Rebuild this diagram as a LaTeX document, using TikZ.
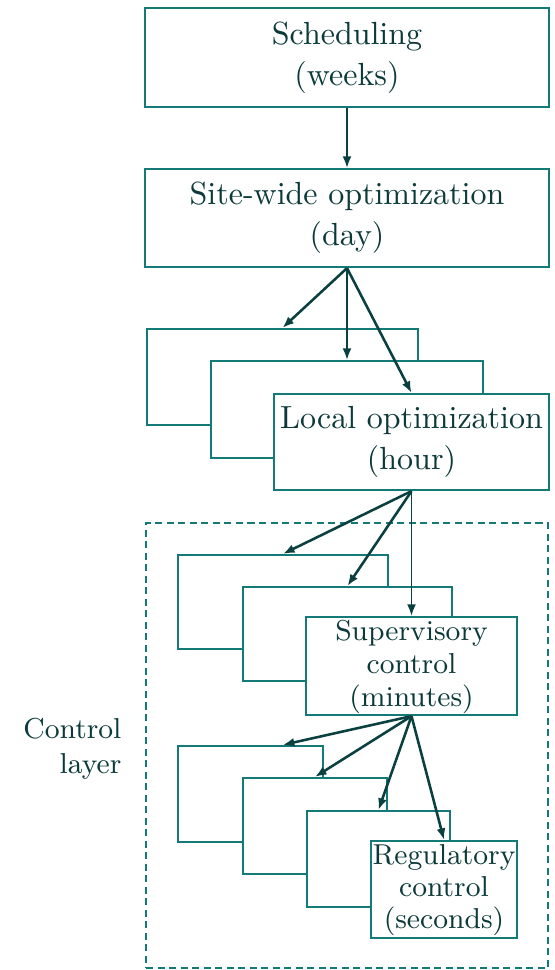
\documentclass[tikz,border=0pt]{standalone}
\usetikzlibrary{fit,arrows.meta,calc}
\definecolor{linecol}{RGB}{20,122,120}
\definecolor{arrowcol}{RGB}{10,64,64}
\definecolor{textcol}{RGB}{12,58,58}
\begin{document}
\begin{tikzpicture}[x=0.3125pt,y=-0.3125pt,
  box/.style={draw=linecol, line width=0.7pt, fill=white, inner sep=0pt},
  lbl/.style={text=textcol, align=center, inner sep=0pt, font=\fontsize{10}{12.8}\selectfont},
  slbl/.style={text=textcol, align=center, inner sep=0pt, font=\fontsize{9}{10.4}\selectfont},
  arr/.style={draw=arrowcol, line width=0.6pt, -{Latex[length=3.6pt,width=2.8pt]}},
  fan/.style={arr, line width=0.8pt},
  layerbox/.style={draw=linecol, line width=0.55pt, dash pattern=on 2.2pt off 1.4pt}
]
\useasboundingbox (0,0) rectangle (554,970);
% top boxes
\node[box, fit={(145,8) (549,107)}] (Sched) {};
\node[box, fit={(145,169) (549,267)}] (Site) {};
% local optimization layer
\node[box, fit={(147,329) (418,425)}] (A) {};
\node[box, fit={(211,361) (483,458)}] (B) {};
\node[box, fit={(274,394) (549,490)}] (C) {};
% control layer frame
\node[layerbox, inner sep=0pt, fit={(146,523) (548,968)}] (Ctrl) {};
% supervisory layer
\node[box, fit={(178,555) (388,649)}] (D) {};
\node[box, fit={(243,587) (452,681)}] (E) {};
\node[box, fit={(306,617) (517,715)}] (F) {};
% regulatory layer
\node[box, fit={(178,746) (323,842)}] (G) {};
\node[box, fit={(243,778) (387,874)}] (H) {};
\node[box, fit={(307,811) (450,907)}] (I) {};
\node[box, fit={(371,841) (517,938)}] (J) {};
% texts
\node[lbl] (tSched) at (Sched.center) {Scheduling\\(weeks)};
\node[lbl] (tSite) at (Site.center) {Site-wide optimization\\(day)};
\node[lbl] (tC) at (C.center) {Local optimization\\(hour)};
\node[slbl] (tF) at ($(F.center)+(0,1)$) {Supervisory\\control\\(minutes)};
\node[slbl, font=\fontsize{9}{10}\selectfont] (tJ) at ($(J.center)+(0,1)$) {Regulatory\\control\\(seconds)};
\node[slbl, align=right, anchor=east, font=\fontsize{9}{10.8}\selectfont] (tCtrl) at (122,749) {Control\\layer};
% connectors
\coordinate (Gin) at ($(G.north west)!0.72!(G.north east)$);
\draw[arr] (Sched.south) -- (Site.north);
\draw[fan] (Site.south) -- (A.north);
\draw[arr] (Site.south) -- (B.north);
\draw[fan] (Site.south) -- (C.north);
\draw[fan] (C.south) -- (D.north);
\draw[fan] (C.south) -- (E.north);
\draw[arr] (C.south) -- (F.north);
\draw[fan] (F.south) -- (Gin);
\draw[fan] (F.south) -- (H.north);
\draw[fan] (F.south) -- (I.north);
\draw[fan] (F.south) -- (J.north);
\end{tikzpicture}
\end{document}
